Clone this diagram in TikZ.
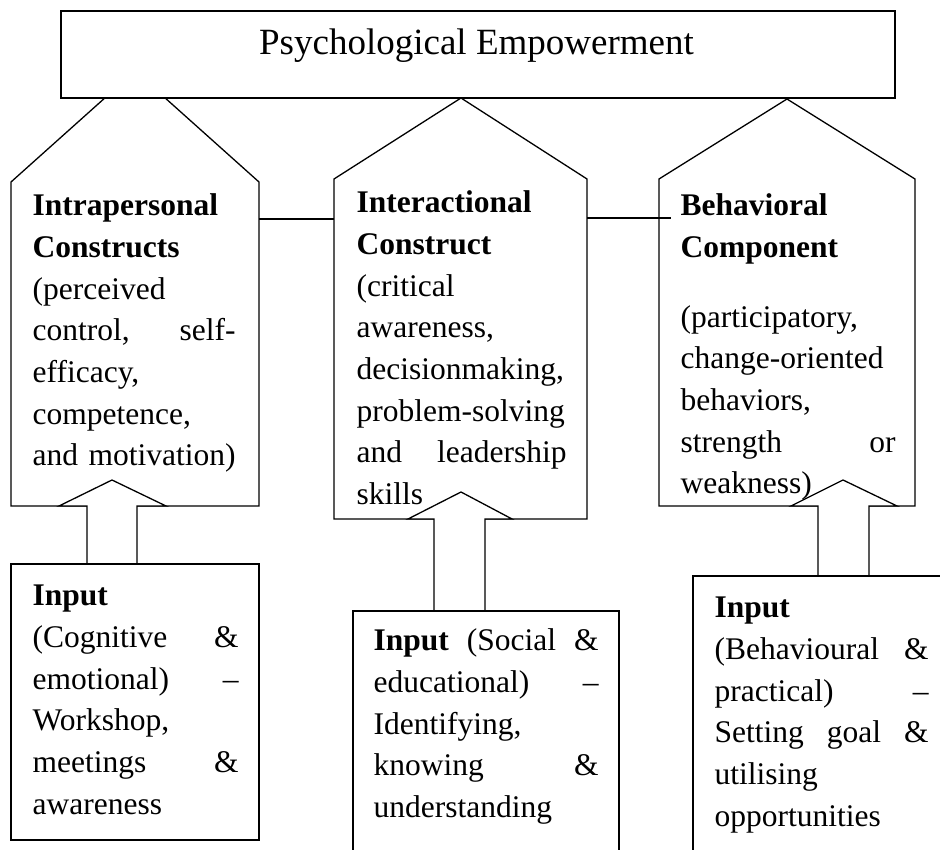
\documentclass[tikz,border=0pt]{standalone}
\usepackage{fontspec}
\setmainfont{Liberation Serif}
\begin{document}
\begin{tikzpicture}[x=1pt,y=-1pt,line width=1.3pt,line join=miter,
  outline/.style={draw=black,fill=white},
  body/.style={anchor=north west,inner sep=0pt,align=left,
    font=\fontsize{31.5pt}{41.7pt}\selectfont},
  titletext/.style={anchor=base,inner sep=0pt,
    font=\fontsize{37pt}{44pt}\selectfont}]
\useasboundingbox (0,0) rectangle (940,850);
\clip (0,0) rectangle (940,850);
\fill[white] (0,0) rectangle (940,850);

% construct blocks (house shapes)
\draw[outline] (11,506) -- (11,182) -- (135,71) -- (259,182) -- (259,506) -- cycle;
\draw[outline] (334,519) -- (334,179) -- (461,98) -- (587,179) -- (587,519) -- cycle;
\draw[outline] (659,506) -- (659,179) -- (787,99) -- (915,179) -- (915,506) -- cycle;

% title box
\node[outline,minimum width=834pt,minimum height=87pt,inner sep=0pt] (pebox) at (478,54.5) {};
\node[titletext] (petitle) at (476.5,55) {Psychological Empowerment};

% links between the blocks
\coordinate (b1e) at (259,219);
\coordinate (b2w) at (334,219);
\coordinate (b2e) at (587,218);
\coordinate (b3w) at (671,218);
\draw (b1e) -- (b2w);
\draw (b2e) -- (b3w);

% block arrows from the inputs
\draw[outline] (87,564) -- (87,506) -- (59,506) -- (112,480) -- (166,506) -- (137,506) -- (137,564);
\draw[outline] (434,611) -- (434,519) -- (408,519) -- (461,492) -- (512,519) -- (485,519) -- (485,611);
\draw[outline] (818,576) -- (818,506) -- (791,506) -- (843,480) -- (897,506) -- (869,506) -- (869,576);

% input boxes
\draw[outline] (11,564) rectangle (259,840);
\draw[outline] (353,611) rectangle (619,870);
\draw[outline] (693,576) rectangle (960,870);

% block texts
\node[body,text width=203pt] (intra) at (32,185.8)
  {\strut\textbf{Intrapersonal}\\
   \textbf{Constructs}\\
   (perceived\\
   control,\hfill self-\\
   efficacy,\\
   competence,\\
   and motivation)};
\node[body,text width=210pt] (inter) at (356,182.8)
  {\strut\textbf{Interactional}\\
   \textbf{Construct}\\
   (critical\\
   awareness,\\
   decisionmaking,\\
   problem-solving\\
   and\hfill leadership\\
   skills};
\node[body,text width=215pt] (behav) at (680,185.8)
  {\strut\textbf{Behavioral}\\
   \textbf{Component}\\[28pt]
   (participatory,\\
   change-oriented\\
   behaviors,\\
   strength\hfill or\\
   weakness)};

% input texts
\node[body,text width=206pt] (in1) at (32,575.8)
  {\strut\textbf{Input}\\
   (Cognitive\hfill\&\\
   emotional)\hfill --\\
   Workshop,\\
   meetings\hfill\&\\
   awareness};
\node[body,text width=225pt] (in2) at (373,620.8)
  {\strut\textbf{Input}\hfill(Social\hfill\&\\
   educational)\hfill --\\
   Identifying,\\
   knowing\hfill\&\\
   understanding};
\node[body,text width=214pt] (in3) at (714,587.8)
  {\strut\textbf{Input}\\
   (Behavioural\hfill\&\\
   practical)\hfill --\\
   Setting\hfill goal\hfill\&\\
   utilising\\
   opportunities};
\end{tikzpicture}
\end{document}
